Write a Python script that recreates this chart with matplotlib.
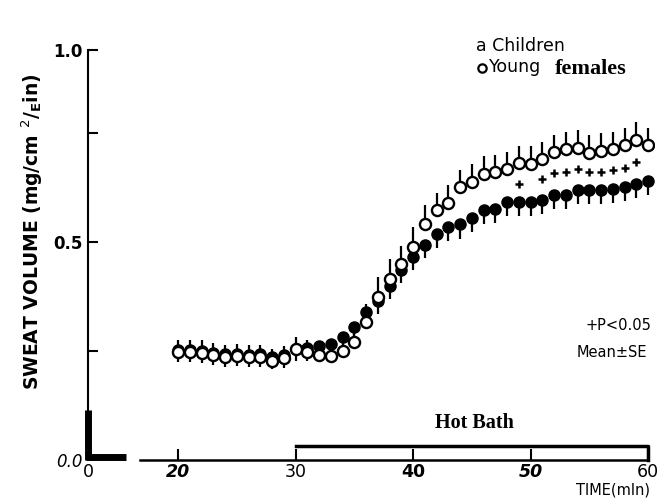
import numpy as np
import matplotlib
matplotlib.use("Agg")
import matplotlib.pyplot as plt

# minutes, one reading per minute
time = np.arange(20, 61)

# young females (open circles), mean and SE
females = [0.248, 0.248, 0.246, 0.241, 0.236, 0.238, 0.236, 0.236, 0.227, 0.234,
           0.255, 0.248, 0.241, 0.238, 0.250, 0.270, 0.317, 0.374, 0.415, 0.450,
           0.489, 0.540, 0.573, 0.590, 0.626, 0.638, 0.656, 0.660, 0.667, 0.681,
           0.679, 0.690, 0.706, 0.713, 0.716, 0.704, 0.709, 0.713, 0.722, 0.734,
           0.722]
females_se = [0.028] * 14 + [0.03, 0.03, 0.04, 0.045, 0.045, 0.04, 0.045, 0.045] + [0.04] * 19

# children (filled circles), mean and SE
children = [0.252, 0.253, 0.250, 0.246, 0.242, 0.244, 0.241, 0.242, 0.236, 0.240,
            0.254, 0.256, 0.262, 0.265, 0.282, 0.305, 0.340, 0.365, 0.400, 0.435,
            0.466, 0.493, 0.518, 0.534, 0.540, 0.555, 0.573, 0.576, 0.592, 0.592,
            0.592, 0.596, 0.608, 0.608, 0.619, 0.619, 0.619, 0.622, 0.626, 0.633,
            0.640]
children_se = [0.028] * 14 + [0.03] * 8 + [0.033] * 19

# significance marks (P<0.05)
sig_time = [49, 51, 52, 53, 54, 55, 56, 57, 58, 59]
sig_val = [0.633, 0.644, 0.658, 0.660, 0.667, 0.660, 0.660, 0.665, 0.670, 0.683]

xticks = [12.34, 20, 30, 40, 50, 60]
xlabels = ["0", "20", "30", "40", "50", "60"]
yticks = [0.0, 0.25, 0.5, 0.75, 0.94]
ylabels = ["0.0", "", "0.5", "", "1.0"]

fig = plt.figure(figsize=(6.72, 4.99), dpi=100)
ax = fig.add_axes([0.131, 0.0782, 0.8423, 0.8216])
ax.set_xlim(12.34, 60.5)
ax.set_ylim(0, 0.94)
for s in ax.spines.values():
    s.set_visible(False)

n = len(time)
ax.errorbar(time, children, yerr=[children_se, [0] * n], fmt="o", ms=8,
            mfc="black", mec="black", ecolor="black", elinewidth=1.6,
            capsize=0, zorder=2)
ax.errorbar(time, females, yerr=[[0] * n, females_se], fmt="o", ms=8,
            mfc="white", mec="black", mew=1.7, ecolor="black", elinewidth=1.6,
            capsize=0, zorder=3)
ax.plot(sig_time, sig_val, "+", color="black", ms=6, mew=1.8, zorder=3)

# axes drawn by hand (broken axis)
x0 = 12.34
ax.plot([x0, x0], [0.115, 0.94], color="black", lw=1.5, clip_on=False)
ax.plot([x0, x0], [0.0, 0.115], color="black", lw=5, clip_on=False, solid_capstyle="butt")
ax.plot([x0 - 0.2, 15.6], [0.006, 0.006], color="black", lw=5, clip_on=False, solid_capstyle="butt")
ax.plot([16.8, 60], [0, 0], color="black", lw=1.8, clip_on=False)

# hot bath bar
ax.plot([30, 60, 60], [0.032, 0.032, 0.0], color="black", lw=2.5, clip_on=False)
ax.text(45.2, 0.062, "Hot Bath", family="Liberation Serif", weight="bold",
        fontsize=14.5, ha="center", va="bottom")

ax.set_xticks(xticks)
ax.set_xticklabels(xlabels)
ax.set_yticks(yticks)
ax.set_yticklabels(ylabels)
ax.tick_params(axis="x", direction="in", length=8, width=1.5, pad=2, labelsize=12.5)
ax.tick_params(axis="y", direction="in", length=7, width=1.5, pad=4, labelsize=12)
ax.xaxis.get_major_ticks()[0].tick1line.set_visible(False)
ax.yaxis.get_major_ticks()[0].tick1line.set_visible(False)

xstyles = [("normal", "normal"), ("italic", "bold"), ("normal", "normal"),
           ("normal", "bold"), ("italic", "bold"), ("normal", "normal")]
for lab, (st, wt) in zip(ax.get_xticklabels(), xstyles):
    lab.set_fontstyle(st)
    lab.set_fontweight(wt)
ystyles = [("italic", "normal"), ("normal", "bold"), ("normal", "bold"),
           ("normal", "bold"), ("normal", "bold")]
for lab, (st, wt) in zip(ax.get_yticklabels(), ystyles):
    lab.set_fontstyle(st)
    lab.set_fontweight(wt)

fig.text(0.048, 0.535, r"SWEAT VOLUME (mg/cm $^{2}$/$_{\mathbf{E}}$in)", rotation=90,
         ha="center", va="center", fontsize=13.5, weight="bold")
fig.text(0.968, 0.004, "TIME(mln)", ha="right", va="bottom", fontsize=10.5)

# legend
fig.text(0.709, 0.907, "a Children", fontsize=12.5, va="center")
fig.lines.append(plt.Line2D([0.718], [0.864], marker="o", ms=6, mfc="white",
                            mec="black", mew=1.6, transform=fig.transFigure))
fig.text(0.728, 0.866, "Young", fontsize=12.5, va="center")
fig.text(0.826, 0.862, "females", fontsize=16, va="center",
         family="Liberation Serif", weight="bold")

fig.text(0.970, 0.347, "+P<0.05", ha="right", va="center", fontsize=10.5)
fig.text(0.963, 0.293, "Mean\u00b1SE", ha="right", va="center", fontsize=10.5)

fig.savefig("out.png", dpi=100)
